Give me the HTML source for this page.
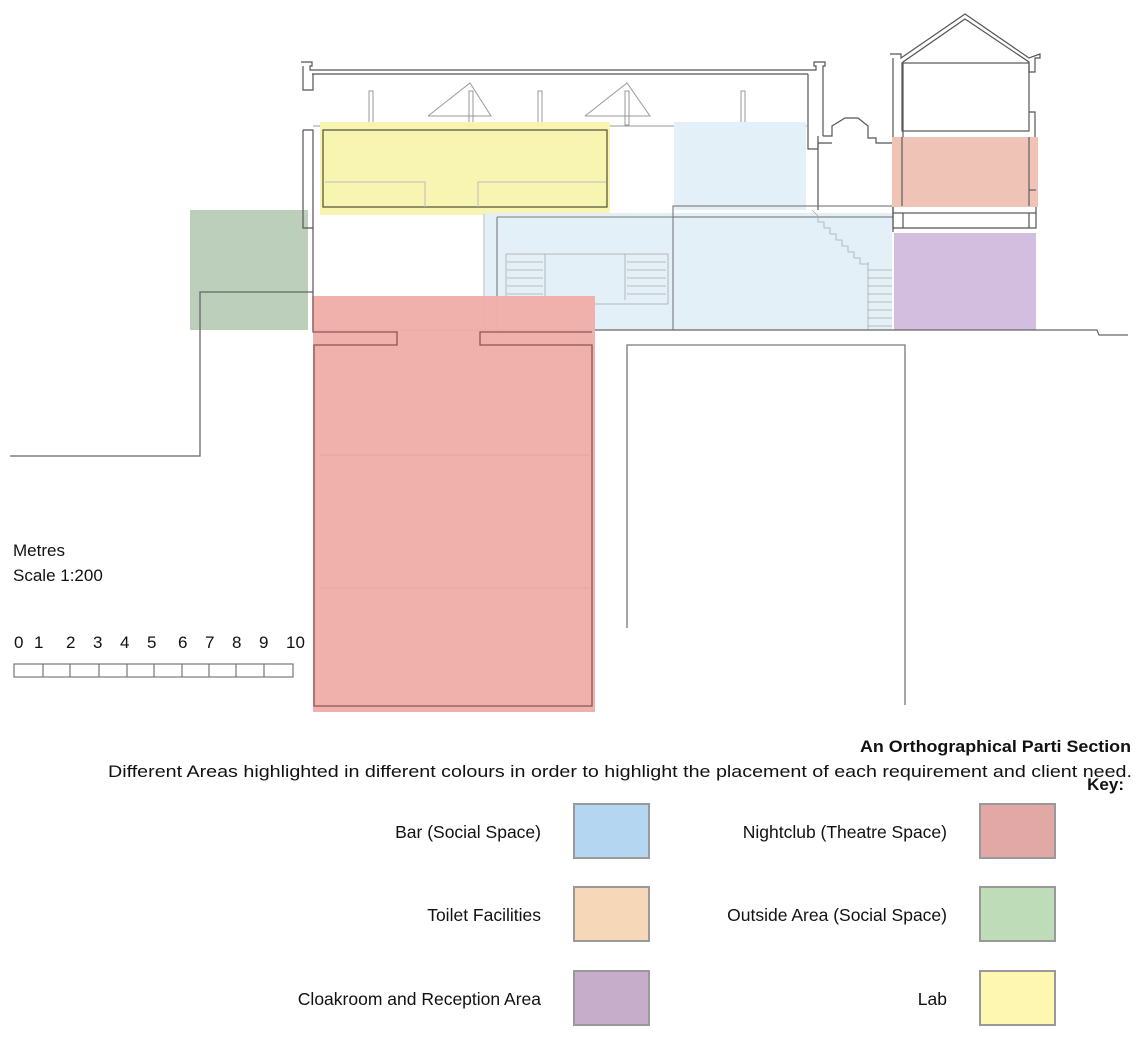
<!DOCTYPE html>
<html><head><meta charset="utf-8"><style>
html,body{margin:0;padding:0;background:#fff;}
svg{display:block;font-family:"Liberation Sans",sans-serif;}
</style></head><body>
<svg width="1142" height="1046" viewBox="0 0 1142 1046" xmlns="http://www.w3.org/2000/svg">
<rect width="1142" height="1046" fill="#fff"/>
<rect x="190" y="210" width="118" height="120" fill="#bccfba"/>
<polyline points="10,456 200,456 200,292 313,292" fill="none" stroke="#666" stroke-width="1.3"/>
<g fill="none" stroke="#555" stroke-width="1.2">
<polyline points="301,62 312,62 312,66 310,66 310,70 816,70 816,66 814,66 814,62 825,62 825,66 823,66 823,136"/>
<line x1="312" y1="74" x2="808" y2="74"/>
<polyline points="303,66 303,90 313,90 313,74"/>
<polyline points="303,130 303,228 313,228 313,130 303,130"/>
<line x1="313" y1="228" x2="313" y2="330"/>
<polyline points="808,74 808,149 818,149"/>
<line x1="818" y1="136" x2="818" y2="210"/>
<polyline points="823,136 832,136 832,126 845,118 858,118 868,126 868,138 876,138 876,143 892,143"/>
<polyline points="818,149 818,143 832,143"/>
</g>
<g fill="none" stroke="#999" stroke-width="1">
<polyline points="428,116 470,83 491,116 428,116"/>
<polyline points="585,116 627,83 650,116 585,116"/>
<rect x="369" y="91" width="4" height="34"/><rect x="469" y="91" width="4" height="34"/>
<rect x="538" y="91" width="4" height="34"/><rect x="625" y="91" width="4" height="34"/>
<rect x="741" y="91" width="4" height="34"/>
<line x1="313" y1="126" x2="808" y2="126"/>
</g>
<rect x="320" y="122" width="290" height="93" fill="#f8f4ae" opacity="0.95"/>
<rect x="323" y="130" width="284" height="77" fill="none" stroke="#5a5a3a" stroke-width="1.3"/>
<polyline points="325,182 425,182 425,207" fill="none" stroke="#bbb" stroke-width="1"/>
<polyline points="606,182 478,182 478,207" fill="none" stroke="#bbb" stroke-width="1"/>
<rect x="674" y="122" width="132" height="88" fill="#e4f0f8"/>
<rect x="485" y="213" width="407" height="117" fill="#e4f0f8"/>
<g fill="none" stroke="#777" stroke-width="1.1">
<rect x="673" y="206" width="220" height="11"/>
<line x1="497" y1="217" x2="497" y2="330"/>
<line x1="497" y1="217" x2="673" y2="217"/>
<line x1="673" y1="217" x2="673" y2="330"/>
<line x1="484" y1="214" x2="484" y2="330" stroke="#bbb"/>
</g>
<g fill="none" stroke="#aaa" stroke-width="0.8">
<rect x="506" y="254" width="162" height="50"/>
<line x1="545" y1="254" x2="545" y2="300"/><line x1="625" y1="254" x2="625" y2="300"/>
<line x1="507" y1="262" x2="543" y2="262"/><line x1="507" y1="270" x2="543" y2="270"/><line x1="507" y1="278" x2="543" y2="278"/><line x1="507" y1="286" x2="543" y2="286"/><line x1="507" y1="294" x2="543" y2="294"/>
<line x1="627" y1="262" x2="666" y2="262"/><line x1="627" y1="270" x2="666" y2="270"/><line x1="627" y1="278" x2="666" y2="278"/><line x1="627" y1="286" x2="666" y2="286"/><line x1="627" y1="294" x2="666" y2="294"/>
<polyline points="812,210 818,216 818,222 824,222 824,228 830,228 830,234 836,234 836,240 842,240 842,246 848,246 848,252 854,252 854,258 860,258 860,264 868,264"/>
<line x1="868" y1="262" x2="868" y2="330"/>
<line x1="868" y1="270" x2="892" y2="270"/><line x1="868" y1="278" x2="892" y2="278"/><line x1="868" y1="286" x2="892" y2="286"/><line x1="868" y1="294" x2="892" y2="294"/><line x1="868" y1="302" x2="892" y2="302"/><line x1="868" y1="310" x2="892" y2="310"/><line x1="868" y1="318" x2="892" y2="318"/><line x1="868" y1="326" x2="892" y2="326"/>
</g>
<g fill="none" stroke="#555" stroke-width="1.2">
<polyline points="890,54 901,54 901,58 965,14 1029,58 1040,54 1040,58 1035,58 1035,72 1029,72 1029,62 965,19 903,62 903,137"/>
<line x1="893" y1="58" x2="893" y2="232"/>
<rect x="902" y="63" width="127" height="68"/>
<polyline points="1029,112 1035,112 1035,137"/>
<rect x="893" y="206" width="143" height="7"/>
<polyline points="893,213 893,228 903,228 903,213"/>
<polyline points="1029,213 1029,228 1036,228 1036,213"/>
<line x1="903" y1="228" x2="1029" y2="228"/>
</g>
<rect x="892" y="137" width="146" height="70" fill="#efc4b6"/>
<g fill="none" stroke="#555" stroke-width="1.1">
<line x1="902" y1="137" x2="902" y2="206"/>
<polyline points="1029,137 1029,206"/>
<polyline points="1029,190 1036,190"/>
</g>
<rect x="894" y="233" width="142" height="97" fill="#d4bee0"/>
<polyline points="313,330 1097,330 1099,335 1128,335" fill="none" stroke="#666" stroke-width="1.2"/>
<polyline points="627,628 627,345 905,345 905,705" fill="none" stroke="#777" stroke-width="1.3"/>
<rect x="313" y="296" width="282" height="416" fill="#f0aeaa" opacity="0.97"/>
<g fill="none" stroke="#8a5555" stroke-width="1.3">
<polyline points="313,296 313,332 397,332 397,345 314,345 314,706 592,706 592,345 480,345 480,332 592,332"/>
</g>
<line x1="320" y1="455" x2="590" y2="455" stroke="#e8a4a0"/>
<line x1="320" y1="588" x2="590" y2="588" stroke="#e8a4a0"/>
<text x="13" y="556" font-size="17" fill="#111">Metres</text>
<text x="13" y="581" font-size="17" fill="#111">Scale 1:200</text>
<g font-size="17" fill="#111">
<text x="14" y="648">0</text><text x="34" y="648">1</text><text x="66" y="648">2</text><text x="93" y="648">3</text><text x="120" y="648">4</text><text x="147" y="648">5</text><text x="178" y="648">6</text><text x="205" y="648">7</text><text x="232" y="648">8</text><text x="259" y="648">9</text><text x="286" y="648">10</text>
</g>
<g fill="none" stroke="#777" stroke-width="1.2">
<rect x="14" y="664" width="279" height="13"/>
<path d="M43 664v13M70 664v13M99 664v13M127 664v13M154 664v13M182 664v13M209 664v13M236 664v13M264 664v13"/>
</g>
<text x="1131" y="752" font-size="17" font-weight="bold" text-anchor="end" fill="#111" textLength="271" lengthAdjust="spacingAndGlyphs">An Orthographical Parti Section</text>
<text x="108" y="777" font-size="17" fill="#111" textLength="1024" lengthAdjust="spacingAndGlyphs">Different Areas highlighted in different colours in order to highlight the placement of each requirement and client need.</text>
<text x="1124" y="790" font-size="17" font-weight="bold" text-anchor="end" fill="#111">Key:</text>
<g font-size="17.5" fill="#111" text-anchor="end">
<text x="541" y="838">Bar (Social Space)</text>
<text x="541" y="921">Toilet Facilities</text>
<text x="541" y="1005">Cloakroom and Reception Area</text>
<text x="947" y="838">Nightclub (Theatre Space)</text>
<text x="947" y="921">Outside Area (Social Space)</text>
<text x="947" y="1005">Lab</text>
</g>
<g stroke="#999" stroke-width="2">
<rect x="574" y="804" width="75" height="54" fill="#b4d6f0"/>
<rect x="574" y="887" width="75" height="54" fill="#f6d8b8"/>
<rect x="574" y="971" width="75" height="54" fill="#c6adca"/>
<rect x="980" y="804" width="75" height="54" fill="#e2a8a6"/>
<rect x="980" y="887" width="75" height="54" fill="#bfdcb8"/>
<rect x="980" y="971" width="75" height="54" fill="#fdf7b2"/>
</g>
</svg>
</body></html>
